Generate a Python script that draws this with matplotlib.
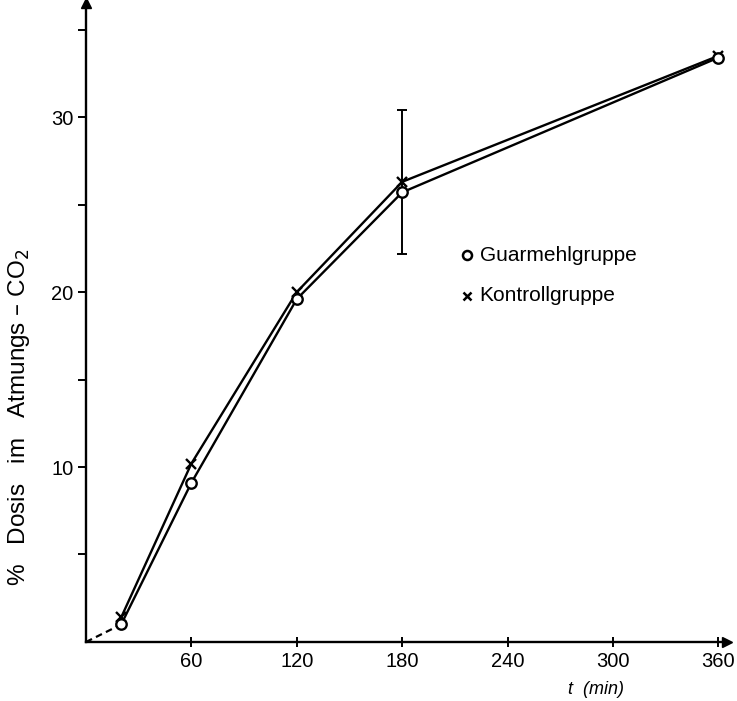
import matplotlib.pyplot as plt

plt.rcParams["font.family"] = ["Liberation Sans", "DejaVu Sans"]

# ── Data ──────────────────────────────────────────────────────────────────────
t_min = [20, 60, 120, 180, 360]
guarmehl = [1.0, 9.1, 19.6, 25.7, 33.4]
kontroll = [1.4, 10.2, 20.0, 26.3, 33.5]
err_t = 180
err_center = 26.3
err_half = 4.1

x_ticks = [60, 120, 180, 240, 300, 360]
y_ticks = [10, 20, 30]
y_minor = [5, 15, 25, 35]

# ── Figure ────────────────────────────────────────────────────────────────────
fig = plt.figure(figsize=(7.37, 7.01), dpi=100)
ax = fig.add_axes([0.1167, 0.0842, 0.870, 0.911])
ax.set_xlim(0, 365)
ax.set_ylim(0, 36.5)

# dashed start from origin
ax.plot([0, t_min[0]], [0, guarmehl[0]], color="black", lw=1.6, ls=(0, (3, 2)))

ax.plot(t_min, kontroll, color="black", lw=1.7, marker="x", ms=7.5, mew=1.7,
        zorder=3)
ax.plot(t_min, guarmehl, color="black", lw=1.7, marker="o", ms=7.5, mew=1.7,
        mfc="white", zorder=4)
ax.errorbar([err_t], [err_center], yerr=[err_half], color="black", lw=1.4,
            capsize=3.5, capthick=1.4, fmt="none", zorder=2)

# legend as text
ax.plot([217], [22.1], marker="o", ms=6.5, mew=1.8, mfc="white", color="black")
ax.text(224, 22.1, "Guarmehlgruppe", fontsize=15, va="center")
ax.plot([217], [19.8], marker="x", ms=6, mew=1.8, color="black")
ax.text(224, 19.8, "Kontrollgruppe", fontsize=15, va="center")

# axes styling
ax.spines[["top", "right"]].set_visible(False)
ax.spines["left"].set_linewidth(1.7)
ax.spines["bottom"].set_linewidth(1.7)
ax.plot(1, 0, ">k", ms=7, transform=ax.transAxes, clip_on=False)
ax.plot(0, 1, "^k", ms=7, transform=ax.transAxes, clip_on=False)

ax.set_xticks(x_ticks)
ax.set_xticklabels([str(v) for v in x_ticks], fontsize=14.5)
ax.set_yticks(y_ticks)
ax.set_yticklabels([str(v) for v in y_ticks], fontsize=14.5)
ax.set_yticks(y_minor, minor=True)
ax.tick_params(axis="x", direction="inout", length=7, width=1.4, pad=4)
ax.tick_params(axis="y", which="both", direction="out", length=6, width=1.4,
               pad=3)

ax.text(0.795, -0.075, "t  (min)", transform=ax.transAxes, fontsize=13,
        style="italic", ha="center", va="center")
fig.text(0.026, 0.405, "%   Dosis   im   Atmungs – CO$_2$", rotation=90,
         fontsize=17.5, ha="center", va="center")

fig.savefig("out.png", dpi=100)
